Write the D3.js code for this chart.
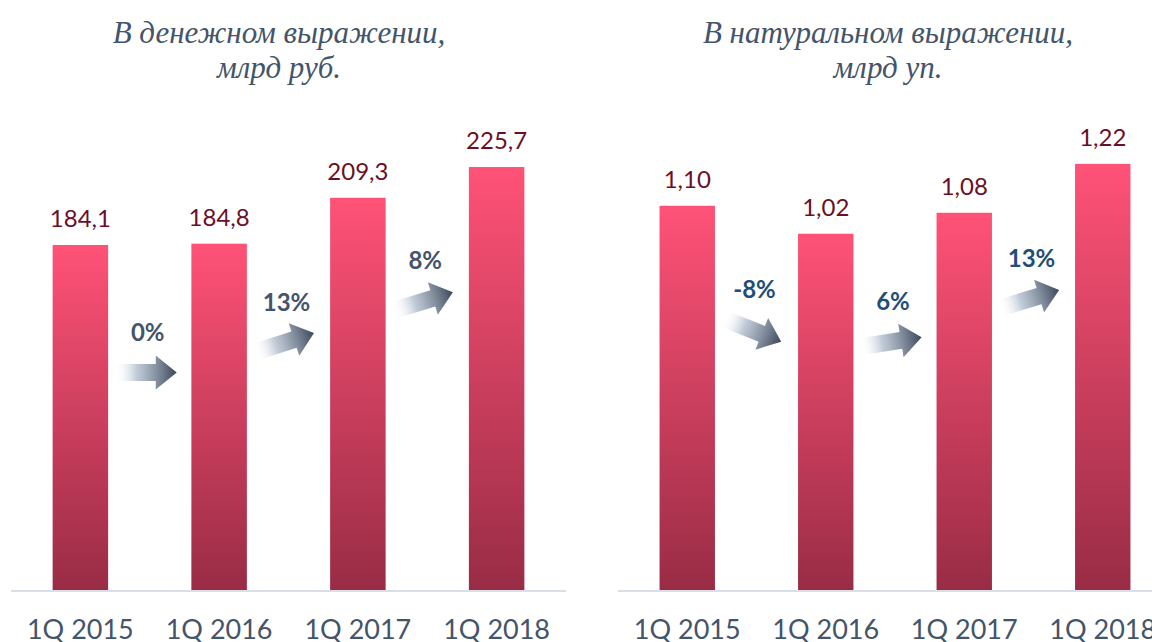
<!DOCTYPE html>
<html>
<head>
<meta charset="utf-8">
<script src="https://cdn.jsdelivr.net/npm/d3@7"></script>
<style>
  body { margin: 0; background: #fff; }
</style>
</head>
<body>
<div id="container"></div>
<script>
  // data
  const categories = ["1Q 2015", "1Q 2016", "1Q 2017", "1Q 2018"];
  const moneyValues = [184.1, 184.8, 209.3, 225.7];
  const moneyLabels = ["184,1", "184,8", "209,3", "225,7"];
  const unitValues = [1.10, 1.02, 1.08, 1.22];
  const unitLabels = ["1,10", "1,02", "1,08", "1,22"];
  const moneyGrowth = ["0%", "13%", "8%"];
  const unitGrowth = ["-8%", "6%", "13%"];
  // arrow level (in data units) and tilt in degrees
  const moneyArrowLevel = [116, 132, 154];
  const moneyArrowAngle = [0, -18, -17];
  const unitArrowLevel = [0.744, 0.71, 0.833];
  const unitArrowAngle = [22, -9, -17];

  const width = 1152;
  const height = 642;
  const baseY = 590;

  const svg = d3.create("svg")
      .attr("width", width)
      .attr("height", height)
      .style("display", "block");

  const defs = svg.append("defs");

  const barGrad = defs.append("linearGradient")
      .attr("id", "barGrad")
      .attr("x1", 0).attr("y1", 0).attr("x2", 0).attr("y2", 1);
  barGrad.append("stop").attr("offset", "0%").attr("stop-color", "#ff5277");
  barGrad.append("stop").attr("offset", "100%").attr("stop-color", "#992c45");

  const arrowGrad = defs.append("linearGradient")
      .attr("id", "arrowGrad")
      .attr("x1", 0).attr("y1", 0).attr("x2", 1).attr("y2", 0);
  arrowGrad.append("stop").attr("offset", "0%").attr("stop-color", "#ffffff").attr("stop-opacity", 0);
  arrowGrad.append("stop").attr("offset", "35%").attr("stop-color", "#b3bfcf").attr("stop-opacity", 0.8);
  arrowGrad.append("stop").attr("offset", "100%").attr("stop-color", "#3a475a");

  function drawPanel(opts) {
    const x = d3.scaleBand()
        .domain(categories)
        .range(opts.xRange)
        .paddingInner(0.6)
        .paddingOuter(0.3);

    const y = d3.scaleLinear()
        .domain(opts.yDomain)
        .range([baseY, opts.yTop]);

    const g = svg.append("g");

    // title
    const title = g.append("text")
        .attr("text-anchor", "middle")
        .attr("font-family", "'Liberation Serif', 'Times New Roman', serif")
        .attr("font-style", "italic")
        .attr("font-size", "31px")
        .attr("fill", "#44546a");
    title.append("tspan").attr("x", opts.titleX).attr("y", 43).text(opts.title[0]);
    title.append("tspan").attr("x", opts.titleX).attr("y", 78).text(opts.title[1]);

    // bars
    g.selectAll(".bar")
      .data(opts.values)
      .join("rect")
        .attr("class", "bar")
        .attr("x", (d, i) => x(categories[i]))
        .attr("y", d => y(d))
        .attr("width", x.bandwidth())
        .attr("height", d => y(0) - y(d))
        .attr("fill", "url(#barGrad)");

    // value labels
    g.selectAll(".val")
      .data(opts.values)
      .join("text")
        .attr("class", "val")
        .attr("x", (d, i) => x(categories[i]) + x.bandwidth() / 2)
        .attr("y", d => y(d) - 18)
        .attr("text-anchor", "middle")
        .attr("font-family", "Lato, sans-serif")
        .attr("font-size", "24px")
        .attr("fill", "#6b0f28")
        .text((d, i) => opts.labels[i]);

    // baseline
    g.append("line")
        .attr("x1", opts.xRange[0])
        .attr("x2", Math.min(opts.xRange[1], width))
        .attr("y1", y(0) + 1)
        .attr("y2", y(0) + 1)
        .attr("stroke", "#d9dee7")
        .attr("stroke-width", 2);

    // category labels
    g.selectAll(".cat")
      .data(categories)
      .join("text")
        .attr("class", "cat")
        .attr("x", d => x(d) + x.bandwidth() / 2)
        .attr("y", 639)
        .attr("text-anchor", "middle")
        .attr("font-family", "Lato, sans-serif")
        .attr("font-size", "27px")
        .attr("fill", "#44546a")
        .text(d => d);

    // growth arrows
    const arrowPath = "M-31,-8.5 L10,-8.5 L10,-17 L31,0 L10,17 L10,8.5 L-31,8.5 Z";
    const mids = opts.growth.map((d, i) =>
      (x(categories[i]) + x(categories[i + 1]) + x.bandwidth()) / 2 - 4);

    g.selectAll(".arrow")
      .data(opts.growth)
      .join("path")
        .attr("class", "arrow")
        .attr("d", arrowPath)
        .attr("transform", (d, i) =>
          `translate(${mids[i]},${y(opts.arrowLevel[i])}) rotate(${opts.arrowAngle[i]})`)
        .attr("fill", "url(#arrowGrad)");

    g.selectAll(".growth")
      .data(opts.growth)
      .join("text")
        .attr("class", "growth")
        .attr("x", (d, i) => mids[i] + 2)
        .attr("y", (d, i) => y(opts.arrowLevel[i]) - 32)
        .attr("text-anchor", "middle")
        .attr("font-family", "Lato, sans-serif")
        .attr("font-weight", "bold")
        .attr("font-size", "24px")
        .attr("fill", opts.growthColor)
        .text(d => d);
  }

  drawPanel({
    xRange: [11, 566],
    yDomain: [0, 250],
    yTop: 121.5,
    values: moneyValues,
    labels: moneyLabels,
    growth: moneyGrowth,
    arrowLevel: moneyArrowLevel,
    arrowAngle: moneyArrowAngle,
    growthColor: "#44546a",
    title: ["В денежном выражении,", "млрд руб."],
    titleX: 279
  });

  drawPanel({
    xRange: [618, 1172],
    yDomain: [0, 1.4],
    yTop: 101,
    values: unitValues,
    labels: unitLabels,
    growth: unitGrowth,
    arrowLevel: unitArrowLevel,
    arrowAngle: unitArrowAngle,
    growthColor: "#1f4e79",
    title: ["В натуральном выражении,", "млрд уп."],
    titleX: 888
  });

  container.append(svg.node());
</script>
</body>
</html>
